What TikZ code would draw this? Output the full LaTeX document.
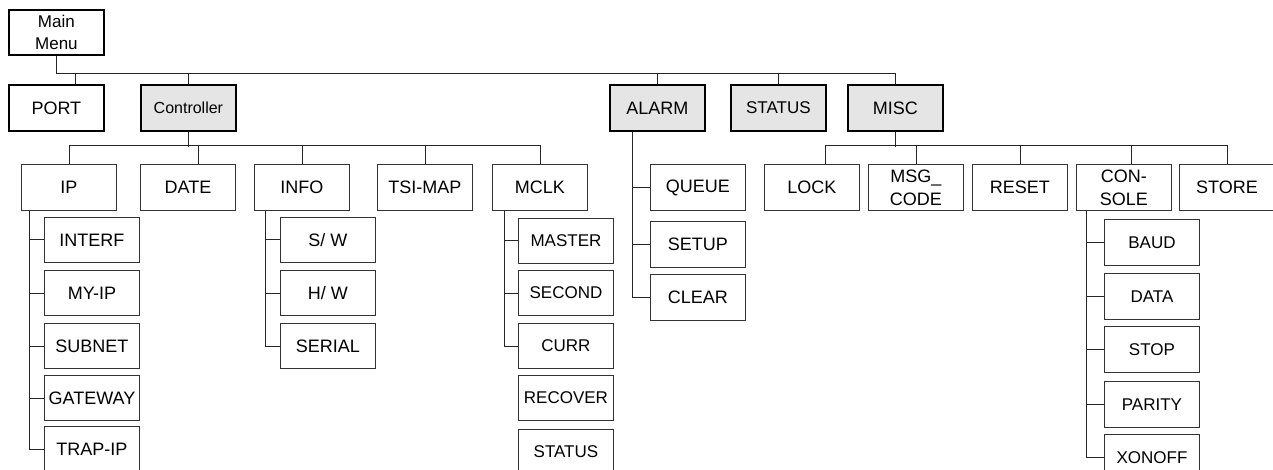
\documentclass[tikz,border=0pt]{standalone}
\usepackage{fontspec}
\setmainfont{Liberation Sans}
\usetikzlibrary{calc}

\begin{document}
\begin{tikzpicture}[x=1pt,y=-1pt,
  box/.style={draw=black!80,line width=0.9pt,minimum width=95pt,minimum height=46pt,
    inner sep=0pt,align=center,anchor=north west,font=\fontsize{18}{23}\selectfont},
  topbox/.style={box,draw=black,line width=1.8pt},
  menubox/.style={topbox,fill=black!10},
  smallbox/.style={box,font=\fontsize{17}{21}\selectfont},
  wire/.style={draw=black!85,line width=0.9pt}]

\useasboundingbox (0,0) rectangle (1273,470);

% Row heights
\def\rowA{84}
\def\rowB{164}

% Top of the tree
\node[topbox,minimum height=45pt,font=\fontsize{17}{22}\selectfont] (main) at (8,9) {Main\\Menu};
\node[topbox] (port) at (8,\rowA) {PORT};
\node[menubox,font=\fontsize{16}{20}\selectfont] (ctrl) at (140,\rowA) {Controller};
\node[menubox] (alarm) at (609,\rowA) {ALARM};
\node[menubox,font=\fontsize{17}{20}\selectfont] (status) at (730,\rowA) {STATUS};
\node[menubox] (misc) at (847,\rowA) {MISC};

\coordinate (bus) at (0,73);
\draw[wire] (main.south) |- (bus -| misc.north) -- (misc.north);
\draw[wire] ($(port.north)+(19,0)$) -- ++(0,-11);
\foreach \name in {ctrl,alarm,status}
  \draw[wire] (bus -| \name.north) -- (\name.north);

% Controller menu
\foreach \name/\txt/\x in {ip/IP/21, date/DATE/140, info/INFO/254, tsi/TSI-MAP/377, mclk/MCLK/492}
  \node[box] (\name) at (\x,\rowB) {\txt};

\draw[wire] (ctrl.south) -- ++(0,15);
\draw[wire] (ip.north) -- ++(0,-19) -| (mclk.north);
\draw[wire] ($(date.north)+(10,0)$) -- ++(0,-19);
\foreach \name in {info,tsi}
  \draw[wire] (\name.north) -- ++(0,-19);

% IP
\foreach \name/\txt/\y in {interf/INTERF/217, myip/MY-IP/270, subnet/SUBNET/323, gateway/GATEWAY/375, trapip/TRAP-IP/426} {
  \node[box,minimum height=45pt] (\name) at (44,\y) {\txt};
  \draw[wire] ($(ip.south west)+(8,0)$) |- (\name.west);
}

% INFO
\foreach \name/\txt/\y in {sw/{S/ W}/217, hw/{H/ W}/270, serial/SERIAL/323} {
  \node[box,minimum height=45pt] (\name) at (280,\y) {\txt};
  \draw[wire] ($(info.south west)+(11,0)$) |- (\name.west);
}

% MCLK
\foreach \name/\txt/\y in {master/MASTER/218, second/SECOND/270, curr/CURR/323} {
  \node[smallbox,minimum height=45pt] (\name) at (518,\y) {\txt};
  \draw[wire] ($(mclk.south west)+(12,0)$) |- (\name.west);
}
\node[smallbox,minimum height=45pt] (recover) at (518,375) {RECOVER};
\node[smallbox,minimum height=45pt] (mstatus) at (518,429) {STATUS};

% ALARM
\foreach \name/\txt/\y in {queue/QUEUE/164, setup/SETUP/221, clear/CLEAR/274} {
  \node[box,minimum height=46pt] (\name) at (650,\y) {\txt};
  \draw[wire] ($(alarm.south west)+(23,0)$) |- (\name.west);
}

% MISC menu
\foreach \name/\txt/\x in {lock/LOCK/764, msg/{MSG\_\\CODE}/868, reset/RESET/972, console/{CON-\\SOLE}/1076, store/STORE/1179}
  \node[box] (\name) at (\x,\rowB) {\txt};

\draw[wire] (misc.south) -- ++(0,15);
\draw[wire] ($(lock.north)+(13,0)$) -- ++(0,-19) -| (store.north);
\draw[wire] ($(console.north)+(7,0)$) -- ++(0,-19);
\foreach \name in {msg,reset}
  \draw[wire] (\name.north) -- ++(0,-19);

% CONSOLE
\foreach \name/\txt/\y in {baud/BAUD/219, data/DATA/273, stop/STOP/326, parity/PARITY/381, xonoff/XONOFF/434} {
  \node[smallbox,minimum height=46pt] (\name) at (1104,\y) {\txt};
  \draw[wire] ($(console.south west)+(10,0)$) |- (\name.west);
}

\end{tikzpicture}
\end{document}
